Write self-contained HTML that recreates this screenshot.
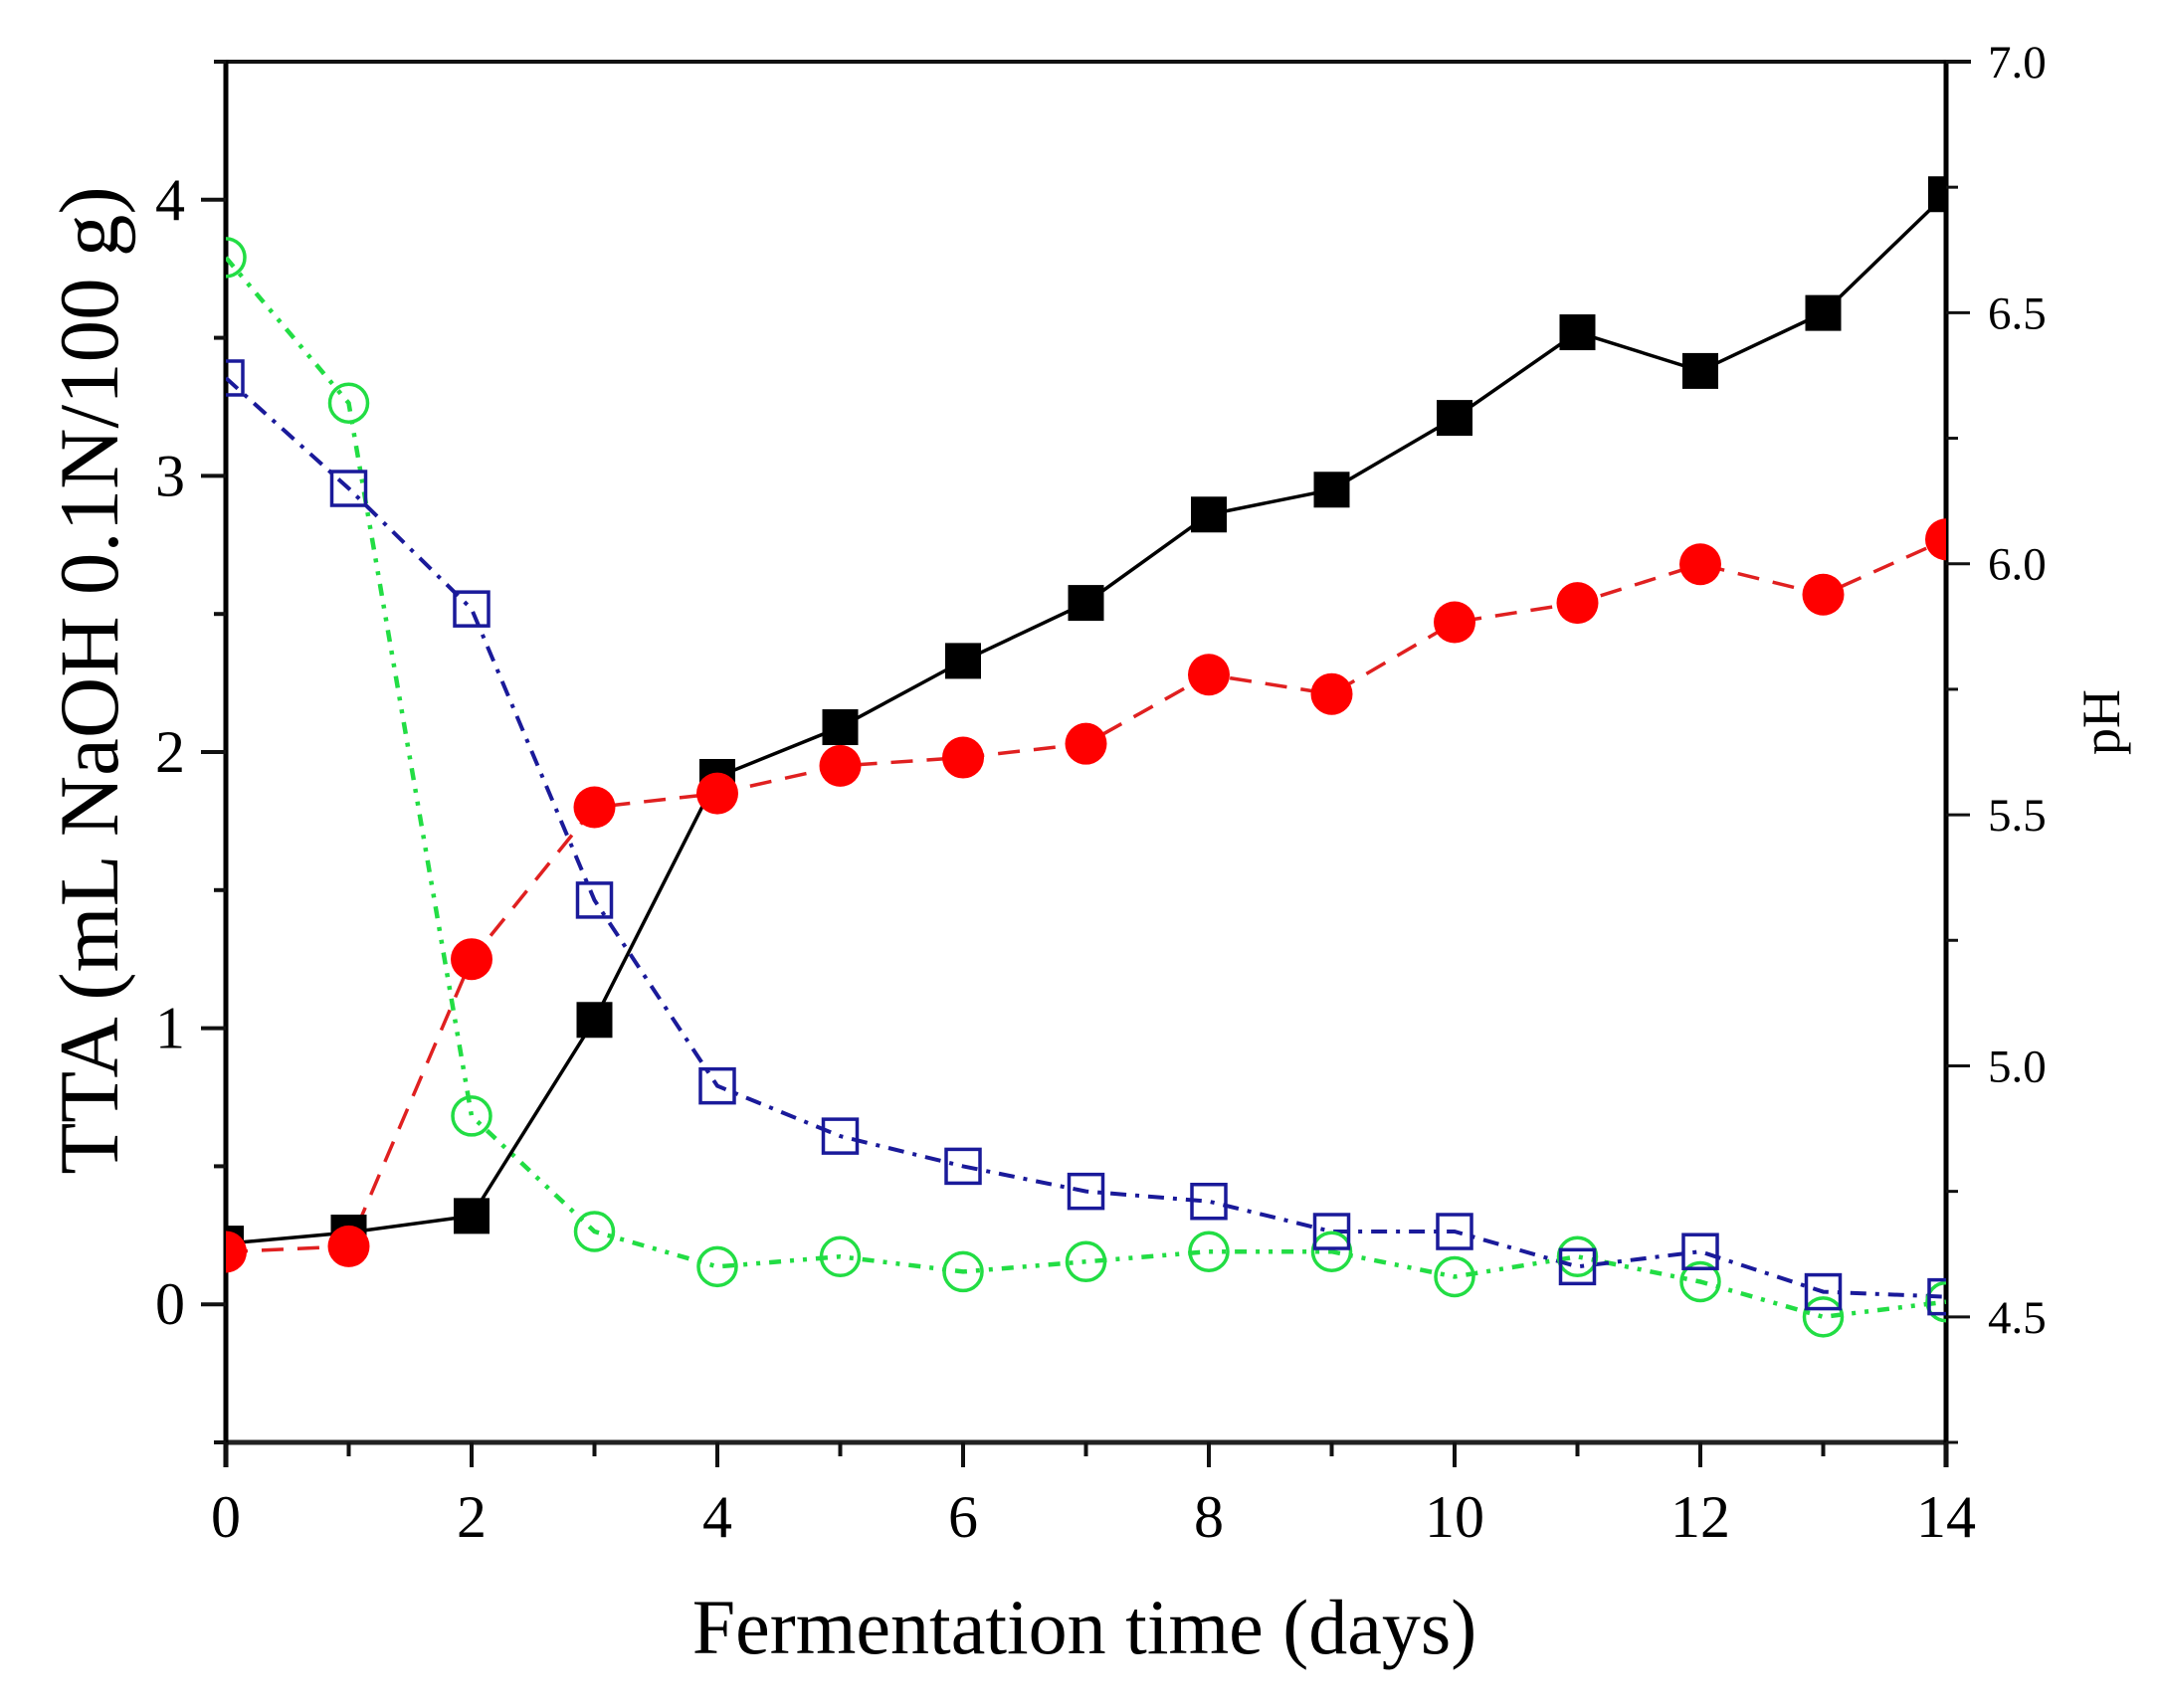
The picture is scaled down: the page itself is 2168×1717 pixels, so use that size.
<!DOCTYPE html>
<html><head><meta charset="utf-8"><style>
html,body{margin:0;padding:0;background:#fff;}
svg{display:block;font-family:"Liberation Serif",serif;}
</style></head><body>
<svg id="chart" width="2168" height="1717" viewBox="0 0 2168 1717" xmlns="http://www.w3.org/2000/svg">
<defs><clipPath id="plotclip"><rect x="227" y="62" width="1729" height="1388"/></clipPath></defs>
<g id="axes"></g>
<g id="series" clip-path="url(#plotclip)"></g>
<text x="1090" y="1662" font-size="78" text-anchor="middle">Fermentation time (days)</text>
<text transform="translate(118,684) rotate(-90)" font-size="85" text-anchor="middle">TTA (mL NaOH 0.1N/100 g)</text>
<text transform="translate(2130,726) rotate(-90)" font-size="54" text-anchor="middle">pH</text>
</svg>
<script>
const days = [0,1,2,3,4,5,6,7,8,9,10,11,12,13,14];
const ttaBlack = [0.22,0.26,0.32,1.03,1.91,2.09,2.33,2.54,2.86,2.95,3.21,3.52,3.38,3.59,4.02];
const ttaRed = [0.19,0.21,1.25,1.80,1.85,1.95,1.98,2.03,2.28,2.21,2.47,2.54,2.68,2.57,2.77];
const phBlue = [6.37,6.15,5.91,5.33,4.96,4.86,4.80,4.75,4.73,4.67,4.67,4.60,4.63,4.55,4.54];
const phGreen = [6.61,6.32,4.90,4.67,4.60,4.62,4.59,4.61,4.63,4.63,4.58,4.62,4.57,4.50,4.53];
const xTicks = [0,2,4,6,8,10,12,14];
const leftTicks = [0,1,2,3,4];
const rightTicks = ["4.5","5.0","5.5","6.0","6.5","7.0"];

const NS="http://www.w3.org/2000/svg";
const L=227,R=1956,T=62,B=1450;
const xs=d=>L+(d-0)/14*(R-L);
const yL=v=>B-(v+0.5)/5*(B-T);
const yR=v=>B-(v-4.25)/2.75*(B-T);
const axes=document.getElementById('axes'), ser=document.getElementById('series');
function mk(tag,attrs,parent){const e=document.createElementNS(NS,tag);for(const k in attrs)e.setAttribute(k,attrs[k]);parent.appendChild(e);return e;}

let e;
e=mk('line',{x1:L,y1:B,x2:R,y2:B,stroke:'#222','stroke-width':5},axes);


e=mk('line',{x1:L,y1:T,x2:R,y2:T,stroke:'#111','stroke-width':4},axes);


e=mk('line',{x1:L,y1:T-2,x2:L,y2:B+25,stroke:'#000','stroke-width':5},axes);


e=mk('line',{x1:R,y1:T-2,x2:R,y2:B+25,stroke:'#000','stroke-width':5},axes);


mk('line',{x1:R,y1:T,x2:R+25,y2:T,stroke:'#111','stroke-width':4},axes);

for(let d=0;d<=14;d++){
  const major=d%2===0;
  e=mk('line',{x1:xs(d),y1:B,x2:xs(d),y2:B+(major?25:14),stroke:'#111','stroke-width':4},axes);
  
  
}
xTicks.forEach(d=>{
  e=mk('text',{x:xs(d),y:1545,'font-size':60,'text-anchor':'middle'},axes);
  e.textContent=String(d);
  
  
});
for(let v=-0.5;v<=4.5;v+=0.5){
  const major=Math.abs(v-Math.round(v))<1e-6;
  e=mk('line',{x1:L,y1:yL(v),x2:L-(major?25:12),y2:yL(v),stroke:'#111','stroke-width':4},axes);
  
  
}
leftTicks.forEach(v=>{
  e=mk('text',{x:171,y:yL(v)+20,'font-size':60,'text-anchor':'middle'},axes);
  e.textContent=String(v);
  
  
});
for(let v=4.25;v<=7.0001;v+=0.25){
  const major=Math.abs(v*2-Math.round(v*2))<1e-6;
  e=mk('line',{x1:R,y1:yR(v),x2:R+(major?24:12),y2:yR(v),stroke:'#111','stroke-width':3},axes);
  
  
}
rightTicks.forEach(s=>{
  e=mk('text',{x:1998,y:yR(parseFloat(s))+16,'font-size':47},axes);
  e.textContent=s;
  
  
});

function drawLine(vals,ys,color,dash,name,w){
  const pts=days.map((d,i)=>xs(d)+','+ys(vals[i])).join(' ');
  const p=mk('polyline',{points:pts,fill:'none',stroke:color,'stroke-width':w,'stroke-dasharray':dash},ser);
  
  
}
drawLine(phGreen,yR,'#22dd44','12 9 4 9 4 9','green-ph-line',4.5);
drawLine(phBlue,yR,'#1a1a9a','16 9 4 9','blue-ph-line',4);
drawLine(ttaRed,yL,'#e02020','22 14','red-tta-line',3.5);
drawLine(ttaBlack,yL,'#000','','black-tta-line',3.5);

phGreen.forEach((v,i)=>{
  const c=mk('circle',{cx:xs(days[i]),cy:yR(v),r:19,fill:'none',stroke:'#22dd44','stroke-width':3.5},ser);
  
  
});
phBlue.forEach((v,i)=>{
  const r=mk('rect',{x:xs(days[i])-17,y:yR(v)-17,width:34,height:34,fill:'none',stroke:'#1a1a9a','stroke-width':3.5},ser);
  
  
});
ttaBlack.forEach((v,i)=>{
  const r=mk('rect',{x:xs(days[i])-18,y:yL(v)-18,width:36,height:36,fill:'#000'},ser);
  
  
});
ttaRed.forEach((v,i)=>{
  const c=mk('circle',{cx:xs(days[i]),cy:yL(v),r:21,fill:'#ff0000'},ser);
  
  
});
</script>
</body></html>
